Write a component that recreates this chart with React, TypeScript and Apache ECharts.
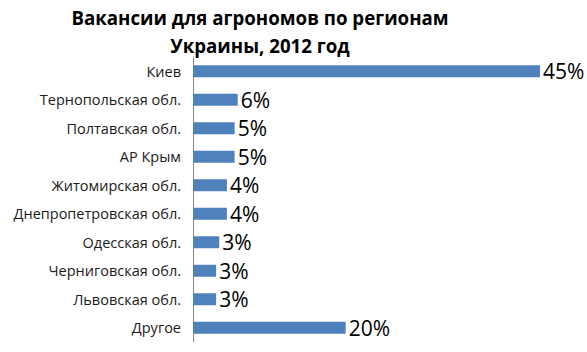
import React, { useEffect, useRef } from "react";
import * as echarts from "echarts";

const categories = [
  "Киев",
  "Тернопольская обл.",
  "Полтавская обл.",
  "АР Крым",
  "Житомирская обл.",
  "Днепропетровская обл.",
  "Одесская обл.",
  "Черниговская обл.",
  "Львовская обл.",
  "Другое",
];
const values = [45, 5.8, 5.4, 5.4, 4.4, 4.4, 3.4, 3.0, 3.0, 19.8];
const titleLines = ["Вакансии для агрономов по регионам", "Украины, 2012 год"];

export default function App() {
  const ref = useRef<HTMLDivElement>(null);
  useEffect(() => {
    if (!ref.current) return;
    const chart = echarts.init(ref.current, null, { renderer: "svg" });
    const titleStyle = {
      fontFamily: "Open Sans",
      fontWeight: "bold",
      fontSize: 18.7,
      fill: "#000",
      textAlign: "center",
      textVerticalAlign: "middle",
    };
    chart.setOption({
      animation: false,
      graphic: titleLines.map((t, i) => ({
        type: "text",
        x: 260,
        y: 17 + i * 28,
        style: { ...titleStyle, text: t },
      })),
      grid: { left: 193, right: 47, top: 57, bottom: 10, containLabel: false },
      xAxis: {
        type: "value",
        min: 0,
        max: 45,
        show: false,
      },
      yAxis: {
        type: "category",
        data: categories,
        inverse: true,
        axisLine: { show: true, lineStyle: { color: "#888", width: 1 } },
        axisTick: { show: false },
        axisLabel: {
          margin: 12,
          fontFamily: "Open Sans",
          fontSize: 14.5,
          color: "#1a1a1a",
        },
      },
      series: [
        {
          type: "bar",
          data: values,
          barCategoryGap: "58%",
          itemStyle: { color: "#4F81BD" },
          label: {
            show: true,
            position: "right",
            distance: 3,
            fontFamily: "Open Sans",
            fontSize: 21,
            color: "#000",
            formatter: (p: any) => Math.round(p.value) + "%",
          },
        },
      ],
    });
    return () => chart.dispose();
  }, []);
  return <div ref={ref} style={{ width: 587, height: 352, position: "absolute", left: 0, top: 0 }} />;
}
